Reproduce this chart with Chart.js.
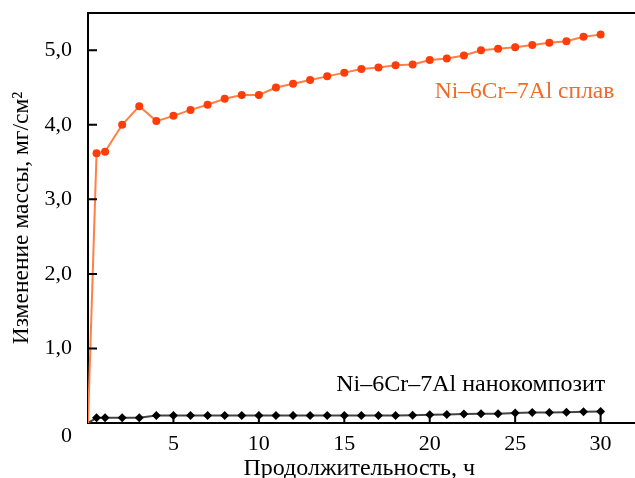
<!DOCTYPE html>
<html>
<head>
<meta charset="utf-8">
<script src="https://cdn.jsdelivr.net/npm/chart.js@4"></script>
<style>
  html, body { margin: 0; padding: 0; background: #fff; overflow: hidden; }
</style>
</head>
<body>
<canvas id="massChart" width="635" height="478"></canvas>
<script>
// Data
const hours = [0, 0.5, 1, 2, 3, 4, 5, 6, 7, 8, 9, 10, 11, 12, 13, 14, 15,
  16, 17, 18, 19, 20, 21, 22, 23, 24, 25, 26, 27, 28, 29, 30];
const alloyGain = [0, 3.62, 3.64, 4.00, 4.25, 4.05, 4.12, 4.20, 4.27, 4.35, 4.40, 4.40,
  4.50, 4.55, 4.60, 4.65, 4.70, 4.75, 4.77, 4.80, 4.81, 4.87, 4.89, 4.93,
  5.00, 5.02, 5.04, 5.07, 5.10, 5.12, 5.18, 5.21];
const compositeGain = [0, 0.07, 0.07, 0.07, 0.07, 0.10, 0.10, 0.10, 0.10, 0.10, 0.10, 0.10,
  0.10, 0.10, 0.10, 0.10, 0.10, 0.10, 0.10, 0.10, 0.105, 0.11, 0.115, 0.12,
  0.125, 0.125, 0.135, 0.14, 0.14, 0.145, 0.15, 0.155];
const xTickValues = [5, 10, 15, 20, 25, 30];
const yTickValues = [0, 1, 2, 3, 4, 5];
const alloyName = 'Ni–6Cr–7Al сплав';
const compositeName = 'Ni–6Cr–7Al нанокомпозит';

const serif = '"Liberation Serif", "DejaVu Serif", serif';

function toPoints(ys) {
  return hours.map((h, i) => ({ x: h, y: ys[i] }));
}

// keep the plot area where the layout padding puts it
function noLabelPadding(s) {
  s.paddingTop = 0;
  s.paddingBottom = 0;
  s.paddingLeft = 0;
  s.paddingRight = 0;
}

// inward tick marks, top frame line and series captions
const frame = {
  id: 'frame',
  afterDraw(chart) {
    const c = chart.ctx;
    const a = chart.chartArea;
    const xs = chart.scales.x, ys = chart.scales.y;
    c.save();
    c.strokeStyle = '#000';
    c.lineWidth = 2;
    c.beginPath();
    c.moveTo(a.left - 1, a.top);
    c.lineTo(chart.width, a.top);
    c.moveTo(a.right, a.bottom);
    c.lineTo(chart.width, a.bottom);
    xs.ticks.forEach((t) => {
      const px = xs.getPixelForValue(t.value);
      c.moveTo(px, a.bottom);
      c.lineTo(px, a.bottom - 8);
    });
    ys.ticks.forEach((t) => {
      if (t.value === 0) return;
      const py = ys.getPixelForValue(t.value);
      c.moveTo(a.left, py);
      c.lineTo(a.left + 9, py);
    });
    c.stroke();

    c.textAlign = 'center';
    c.textBaseline = 'middle';
    c.font = '23.5px ' + serif;
    c.fillStyle = '#f26a2a';
    c.fillText(alloyName, xs.getPixelForValue(25.55), ys.getPixelForValue(4.44));
    c.font = '24px ' + serif;
    c.fillStyle = '#000';
    c.fillText(compositeName, xs.getPixelForValue(22.4), ys.getPixelForValue(0.51));
    c.restore();
  }
};

const config = {
  type: 'line',
  data: {
    datasets: [{
      label: alloyName,
      data: toPoints(alloyGain),
      borderColor: '#ff7f45',
      backgroundColor: '#ff3d0a',
      borderWidth: 2,
      pointRadius: (ctx) => ctx.dataIndex === 0 ? 0 : 4,
      pointBorderWidth: 0,
      pointStyle: 'circle',
      tension: 0
    }, {
      label: compositeName,
      data: toPoints(compositeGain),
      borderColor: '#444',
      backgroundColor: '#000',
      borderWidth: 2,
      pointRadius: (ctx) => ctx.dataIndex === 0 ? 0 : 4.5,
      pointBorderWidth: 0,
      pointStyle: 'rectRot',
      tension: 0
    }]
  },
  options: {
    responsive: false,
    animation: false,
    layout: { padding: { top: 13, right: 0, bottom: 0, left: 0 } },
    plugins: {
      legend: { display: false },
      tooltip: { enabled: false }
    },
    scales: {
      x: {
        type: 'linear',
        min: 0,
        max: 31.75,
        afterBuildTicks: (s) => { s.ticks = xTickValues.map((v) => ({ value: v })); },
        afterFit: (s) => { s.height = 55; noLabelPadding(s); },
        grid: { display: false },
        border: { display: true, color: '#000', width: 2 },
        ticks: {
          color: '#000',
          padding: 0,
          maxRotation: 0,
          font: { family: serif, size: 22 }
        },
        title: {
          display: true,
          text: 'Продолжительность, ч',
          color: '#000',
          padding: { top: 0, bottom: 0 },
          font: { family: serif, size: 24, lineHeight: 0.8 }
        }
      },
      y: {
        min: 0,
        max: 5.5,
        afterBuildTicks: (s) => { s.ticks = yTickValues.map((v) => ({ value: v })); },
        afterFit: (s) => { s.width = 88; noLabelPadding(s); },
        grid: { display: false },
        border: { display: true, color: '#000', width: 2 },
        ticks: {
          color: '#000',
          padding: 8,
          font: { family: serif, size: 22 },
          callback: (v) => v === 0 ? ['', '0'] : v.toFixed(1).replace('.', ',')
        },
        title: {
          display: true,
          text: 'Изменение массы, мг/см²',
          color: '#000',
          padding: { top: 8, bottom: 0 },
          font: { family: serif, size: 23.5 }
        }
      }
    }
  },
  plugins: [frame]
};

window.onload = function () {
  const ctx = document.getElementById('massChart').getContext('2d');
  new Chart(ctx, config);
};
</script>
</body>
</html>
